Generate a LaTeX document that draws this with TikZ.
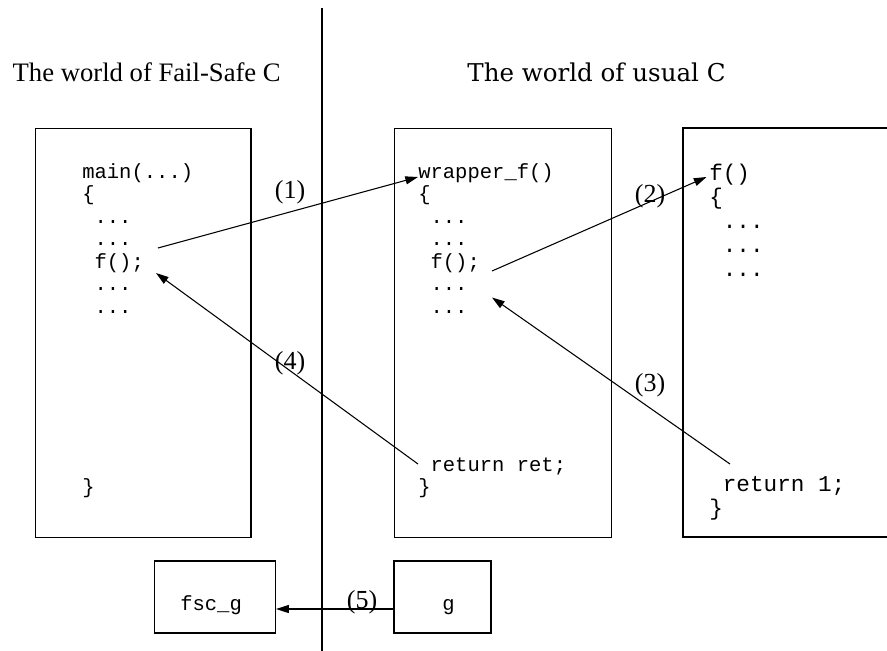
\documentclass[tikz,border=0pt]{standalone}
\usepackage{fontspec}
\setmainfont{Liberation Serif}
\newfontfamily\codefont{Liberation Mono}
\newfontfamily\schoolfont{DejaVu Serif}
\usetikzlibrary{arrows.meta}
\newcommand\cind{\hphantom{x}}
\newcommand\tdd{.{}.{}.}
\begin{document}
\begin{tikzpicture}[x=0.75pt,y=-0.75pt,
  box/.style={draw, line width=0.9pt, inner sep=0pt},
  codeA/.style={anchor=base west, inner sep=0pt, font=\codefont\fontsize{15.4}{16}\selectfont},
  codeB/.style={anchor=base west, inner sep=0pt, font=\codefont\fontsize{17}{18}\selectfont},
  lab/.style={inner sep=0pt, font=\fontsize{19.5}{20}\selectfont},
  title/.style={anchor=base, inner sep=0pt},
  arr/.style={line width=0.8pt, -{Triangle[length=9.5pt,width=6pt]}},
]
\useasboundingbox (0,0) rectangle (887,650);
\clip (0,0) rectangle (887,650);

% separator
\coordinate (sepTop) at (322,8);
\coordinate (sepBot) at (322,660);
\draw[line width=0.8pt] (sepTop) -- (sepBot);

% titles
\node[title, font=\fontsize{20}{24}\selectfont] (t1) at (146.7,81) {The world of Fail-Safe C};
\node[title, font=\schoolfont\fontsize{18.4}{22}\selectfont] (t2) at (596.5,81.5) {The world of usual C};

% boxes
\node[box, anchor=north west, minimum width=161.6pt, minimum height=306.75pt] (B1) at (35,128) {};
\node[box, anchor=north west, minimum width=162.75pt, minimum height=306.75pt] (B2) at (394,128) {};
\draw[line width=0.9pt] (900,128) -- (683,128) -- (683,537) -- (900,537);
\node[box, minimum width=90.75pt, minimum height=54pt] (fsc) at (215,597) {};
\node[box, minimum width=72.75pt, minimum height=54pt] (g) at (442.5,597) {};

% code box 1
\node[codeA] (a0) at (82,178) {main(\tdd)};
\node[codeA] (a1) at (82,200.5) {\{};
\node[codeA] (a2) at (82,223) {\cind\tdd};
\node[codeA] (a3) at (82,245.5) {\cind\tdd};
\node[codeA] (a4) at (82,268) {\cind f();};
\node[codeA] (a5) at (82,290.5) {\cind\tdd};
\node[codeA] (a6) at (82,313) {\cind\tdd};
\node[codeA] (aend) at (82,493) {\}};

% code box 2
\node[codeA] (b0) at (418,178) {wrapper\_f()};
\node[codeA] (b1) at (418,200.5) {\{};
\node[codeA] (b2) at (418,223) {\cind\tdd};
\node[codeA] (b3) at (418,245.5) {\cind\tdd};
\node[codeA] (b4) at (418,268) {\cind f();};
\node[codeA] (b5) at (418,290.5) {\cind\tdd};
\node[codeA] (b6) at (418,313) {\cind\tdd};
\node[codeA] (bret) at (418,471) {\cind return ret;};
\node[codeA] (bend) at (418,493.5) {\}};

% code box 3
\node[codeB] (c0) at (709,180) {f()};
\node[codeB] (c1) at (709,204) {\{};
\node[codeB] (c2) at (709,228) {\cind\tdd};
\node[codeB] (c3) at (709,252) {\cind\tdd};
\node[codeB] (c4) at (709,276) {\cind\tdd};
\node[codeB] (cret) at (709,491) {\cind return 1;};
\node[codeB] (cend) at (709,515) {\}};

% small boxes text
\node[codeA] (fsct) at (180,610) {fsc\_g};
\node[codeA] (gt) at (442,610) {g};

% arrow end points
\coordinate (p1s) at (158,248);
\coordinate (p1e) at (418,177);
\coordinate (p2s) at (492,271);
\coordinate (p2e) at (706.5,177);
\coordinate (p3s) at (730,464);
\coordinate (p3e) at (492,297.5);
\coordinate (p4s) at (418,464);
\coordinate (p4e) at (156,273);

\draw[arr] (p1s) -- (p1e);
\draw[arr] (p2s) -- (p2e);
\draw[arr] (p3s) -- (p3e);
\draw[arr] (p4s) -- (p4e);
\draw[arr] ([yshift=-9pt]g.west) -- ([yshift=-9pt]fsc.east);

% labels
\node[lab] (l1) at (290,192) {(1)};
\node[lab] (l2) at (650,196) {(2)};
\node[lab] (l3) at (650,385) {(3)};
\node[lab] (l4) at (290,363) {(4)};
\node[lab] (l5) at (362,602) {(5)};
\end{tikzpicture}
\end{document}
